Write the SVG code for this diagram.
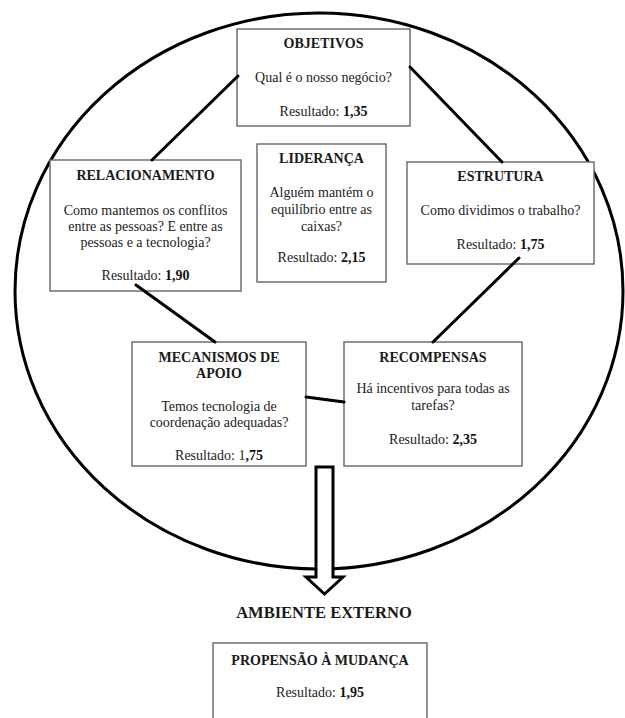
<svg xmlns="http://www.w3.org/2000/svg" width="625" height="718" viewBox="0 0 625 718">
<style>
  .bg{fill:#fff}
  .box{fill:#fff;stroke:#666;stroke-width:1.4}
  .t{font-family:"Liberation Serif","Times New Roman",serif;font-size:14px;fill:#222;text-anchor:middle}
  .h{font-family:"Liberation Serif","Times New Roman",serif;font-size:14px;font-weight:bold;fill:#1a1a1a;text-anchor:middle}
  .b{font-weight:bold;fill:#111}
  .con{stroke:#000;stroke-width:3;fill:none;stroke-linecap:round}
</style>
<rect class="bg" x="0" y="0" width="625" height="718"/>
<ellipse cx="319" cy="291" rx="304" ry="278" fill="none" stroke="#000" stroke-width="3"/>

<g id="objetivos">
  <rect class="box" x="237" y="29" width="173" height="97"/>
  <text class="h" x="323.5" y="48">OBJETIVOS</text>
  <text class="t" x="323.5" y="82">Qual é o nosso negócio?</text>
  <text class="t" x="323.5" y="116">Resultado: <tspan class="b">1,35</tspan></text>
</g>

<g id="relacionamento">
  <rect class="box" x="50" y="160" width="191" height="131"/>
  <text class="h" x="145.5" y="180">RELACIONAMENTO</text>
  <text class="t" x="145.5" y="215">Como mantemos os conflitos</text>
  <text class="t" x="145.5" y="231">entre as pessoas? E entre as</text>
  <text class="t" x="145.5" y="247">pessoas e a tecnologia?</text>
  <text class="t" x="145.5" y="280">Resultado: <tspan class="b">1,90</tspan></text>
</g>

<g id="lideranca">
  <rect class="box" x="257" y="144" width="129" height="138"/>
  <text class="h" x="321.5" y="163">LIDERANÇA</text>
  <text class="t" x="321.5" y="197">Alguém mantém o</text>
  <text class="t" x="321.5" y="214">equilíbrio entre as</text>
  <text class="t" x="321.5" y="231">caixas?</text>
  <text class="t" x="321.5" y="262">Resultado: <tspan class="b">2,15</tspan></text>
</g>

<g id="estrutura">
  <rect class="box" x="407" y="162" width="187" height="102"/>
  <text class="h" x="500.5" y="181">ESTRUTURA</text>
  <text class="t" x="500.5" y="215">Como dividimos o trabalho?</text>
  <text class="t" x="500.5" y="249">Resultado: <tspan class="b">1,75</tspan></text>
</g>

<g id="mecanismos">
  <rect class="box" x="132" y="342" width="174" height="124"/>
  <text class="h" x="219" y="362">MECANISMOS DE</text>
  <text class="h" x="219" y="378">APOIO</text>
  <text class="t" x="219" y="411">Temos tecnologia de</text>
  <text class="t" x="219" y="427">coordenação adequadas?</text>
  <text class="t" x="219" y="460">Resultado: 1<tspan class="b">,75</tspan></text>
</g>

<g id="recompensas">
  <rect class="box" x="344" y="342" width="178" height="124"/>
  <text class="h" x="433" y="362">RECOMPENSAS</text>
  <text class="t" x="433" y="393">Há incentivos para todas as</text>
  <text class="t" x="433" y="410">tarefas?</text>
  <text class="t" x="433" y="444">Resultado: <tspan class="b">2,35</tspan></text>
</g>

<g id="connectors">
  <line class="con" x1="238" y1="76" x2="152" y2="160"/>
  <line class="con" x1="410" y1="67" x2="502" y2="162"/>
  <line class="con" x1="136" y1="285" x2="215" y2="342"/>
  <line class="con" x1="519" y1="258" x2="433" y2="342"/>
  <line class="con" x1="306" y1="397" x2="344" y2="402"/>
</g>

<g id="arrow">
  <polygon points="316,467 333,467 333,577 343,577 324.5,594 306,577 316,577" fill="#fff" stroke="#000" stroke-width="3" stroke-linejoin="miter"/>
</g>

<g id="ambiente">
  <text class="h" x="324" y="618" style="font-size:16.5px">AMBIENTE EXTERNO</text>
</g>

<g id="propensao">
  <rect class="box" x="213" y="643" width="214" height="80"/>
  <text class="h" x="320" y="665">PROPENSÃO À MUDANÇA</text>
  <text class="t" x="320" y="697">Resultado: <tspan class="b">1,95</tspan></text>
</g>
</svg>
